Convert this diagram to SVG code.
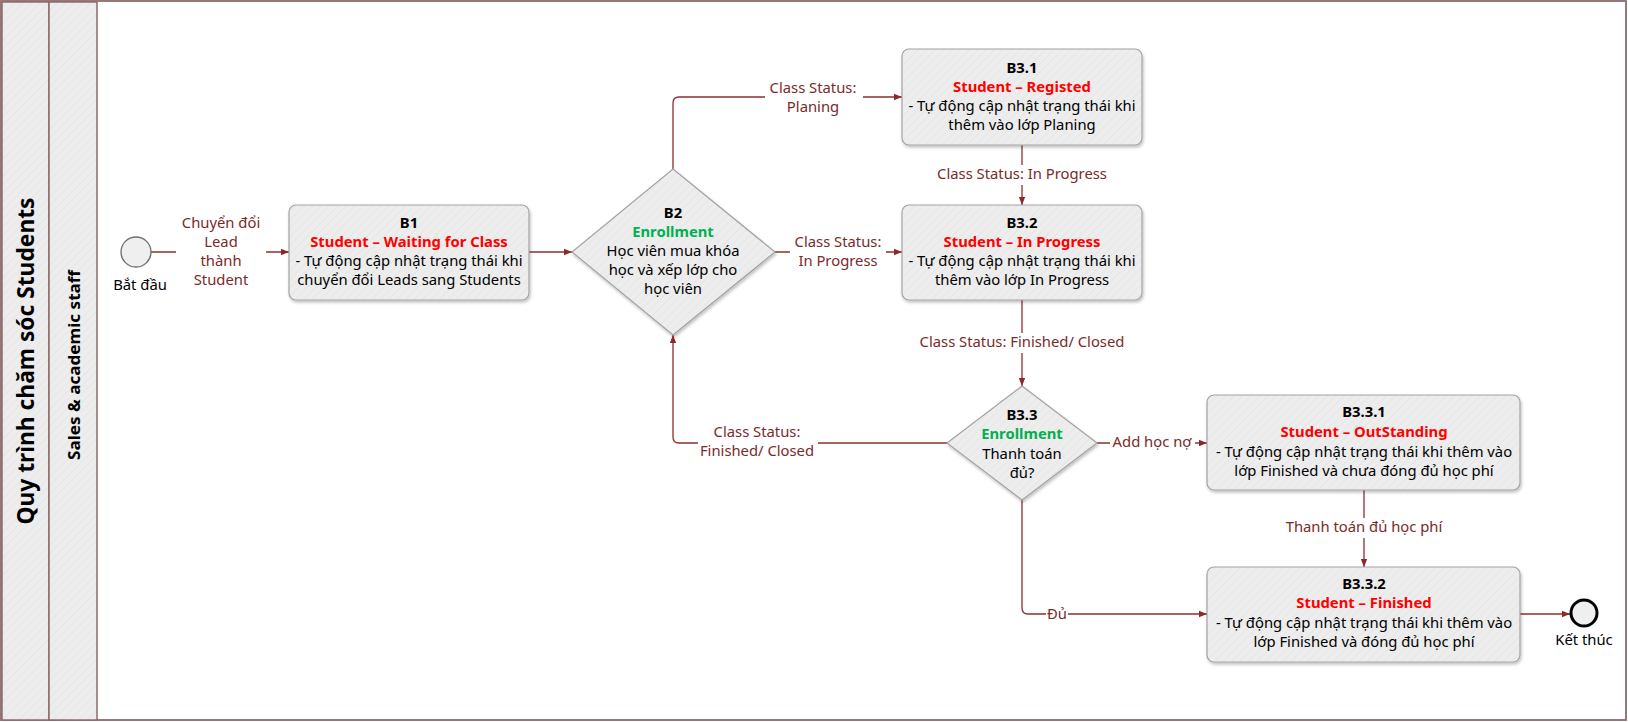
<svg xmlns="http://www.w3.org/2000/svg" width="1628" height="722" viewBox="0 0 1628 722">
<defs>
<pattern id="hatch" width="6" height="6" patternUnits="userSpaceOnUse" patternTransform="rotate(45)">
<rect width="6" height="6" fill="#EDEDED"/>
<line x1="0" y1="0" x2="0" y2="6" stroke="#E6E6E6" stroke-width="2"/>
</pattern>
<filter id="sh" x="-10%" y="-10%" width="120%" height="130%">
<feDropShadow dx="1" dy="2" stdDeviation="1.5" flood-color="#000" flood-opacity="0.25"/>
</filter>
<marker id="arr" viewBox="0 0 10 10" refX="10" refY="5" markerWidth="8" markerHeight="8" markerUnits="userSpaceOnUse" orient="auto">
<path d="M0,1 L10,5 L0,9 Z" fill="#8B2A2A"/>
</marker>
<style>
.box{fill:url(#hatch);stroke:#A3A3A3;stroke-width:1.2;filter:url(#sh)}
.t{font-family:"Noto Sans","Open Sans","DejaVu Sans",sans-serif;font-size:14.8px;fill:#000;text-anchor:middle}
.b{font-weight:bold}
.red{fill:#FF0000}
.green{fill:#00B050}
.lbl{font-family:"Noto Sans","Open Sans","DejaVu Sans",sans-serif;font-size:14.8px;fill:#7B2A2A;text-anchor:middle}
.conn{fill:none;stroke:#8B2F2F;stroke-width:1.3}
.lane{fill:url(#hatch);stroke:#8C6B6B;stroke-width:1.5}
.bg{fill:#fff}
</style>
</defs>

<g id="frame">
<rect x="1" y="1" width="1625" height="719" fill="#fff" stroke="#8C6B6B" stroke-width="1.8"/>
<rect class="lane" x="2" y="2" width="47" height="718"/>
<rect class="lane" x="49" y="2" width="48" height="718"/>
<text transform="translate(34,361) rotate(-90)" font-family="Noto Sans,Open Sans,sans-serif" font-weight="bold" font-size="23" text-anchor="middle" textLength="327" lengthAdjust="spacingAndGlyphs">Quy trình chăm sóc Students</text>
<text transform="translate(80,365) rotate(-90)" font-family="Noto Sans,Open Sans,sans-serif" font-weight="bold" font-size="16" text-anchor="middle" textLength="190" lengthAdjust="spacingAndGlyphs">Sales &amp; academic staff</text>
</g>

<g id="connectors">
<path class="conn" d="M151,252 H289" marker-end="url(#arr)"/>
<path class="conn" d="M529,252 H572" marker-end="url(#arr)"/>
<path class="conn" d="M673,169 V103 Q673,97 679,97 H902" marker-end="url(#arr)"/>
<path class="conn" d="M775,252 H902" marker-end="url(#arr)"/>
<path class="conn" d="M1022,145 V205" marker-end="url(#arr)"/>
<path class="conn" d="M1022,300 V386" marker-end="url(#arr)"/>
<path class="conn" d="M947,443 H679 Q673,443 673,437 V335" marker-end="url(#arr)"/>
<path class="conn" d="M1097,443 H1207" marker-end="url(#arr)"/>
<path class="conn" d="M1364,490 V567" marker-end="url(#arr)"/>
<path class="conn" d="M1022,500 V608 Q1022,614 1028,614 H1207" marker-end="url(#arr)"/>
<path class="conn" d="M1520,614 H1570" marker-end="url(#arr)"/>
</g>

<g id="labels">
<rect class="bg" x="176" y="212" width="90" height="78"/>
<text class="lbl"><tspan x="221" y="228">Chuyển đổi</tspan><tspan x="221" y="247">Lead</tspan><tspan x="221" y="266">thành</tspan><tspan x="221" y="285">Student</tspan></text>
<rect class="bg" x="765" y="80" width="98" height="38"/>
<text class="lbl"><tspan x="813" y="93">Class Status:</tspan><tspan x="813" y="112">Planing</tspan></text>
<rect class="bg" x="790" y="234" width="96" height="38"/>
<text class="lbl"><tspan x="838" y="247">Class Status:</tspan><tspan x="838" y="266">In Progress</tspan></text>
<rect class="bg" x="940" y="165" width="164" height="20"/>
<text class="lbl" x="1022" y="179">Class Status: In Progress</text>
<rect class="bg" x="916" y="333" width="212" height="20"/>
<text class="lbl" x="1022" y="347">Class Status: Finished/ Closed</text>
<rect class="bg" x="698" y="423" width="120" height="38"/>
<text class="lbl"><tspan x="757" y="437">Class Status:</tspan><tspan x="757" y="456">Finished/ Closed</tspan></text>
<rect class="bg" x="1110" y="432" width="85" height="20"/>
<text class="lbl" x="1152" y="447">Add học nợ</text>
<rect class="bg" x="1286" y="518" width="156" height="20"/>
<text class="lbl" x="1364" y="532">Thanh toán đủ học phí</text>
<rect class="bg" x="1046" y="604" width="22" height="20"/>
<text class="lbl" x="1057" y="619">Đủ</text>
</g>

<g id="start">
<circle cx="136" cy="252" r="15" fill="#EFEFEF" stroke="#6E6E6E" stroke-width="1.3"/>
<text class="t" x="140" y="290">Bắt đầu</text>
</g>

<g id="B1">
<rect class="box" x="289" y="205" width="240" height="95" rx="7"/>
<text class="t"><tspan class="b" x="409" y="228">B1</tspan><tspan class="b red" x="409" y="247">Student – Waiting for Class</tspan><tspan x="409" y="266">- Tự động cập nhật trạng thái khi</tspan><tspan x="409" y="285">chuyển đổi Leads sang Students</tspan></text>
</g>

<g id="B2">
<path class="box" d="M673,169 L775,252 L673,335 L572,252 Z"/>
<text class="t"><tspan class="b" x="673" y="218">B2</tspan><tspan class="b green" x="673" y="237">Enrollment</tspan><tspan x="673" y="256">Học viên mua khóa</tspan><tspan x="673" y="275">học và xếp lớp cho</tspan><tspan x="673" y="294">học viên</tspan></text>
</g>

<g id="B3_1">
<rect class="box" x="902" y="49" width="240" height="96" rx="7"/>
<text class="t"><tspan class="b" x="1022" y="73">B3.1</tspan><tspan class="b red" x="1022" y="92">Student – Registed</tspan><tspan x="1022" y="111">- Tự động cập nhật trạng thái khi</tspan><tspan x="1022" y="130">thêm vào lớp Planing</tspan></text>
</g>

<g id="B3_2">
<rect class="box" x="902" y="205" width="240" height="95" rx="7"/>
<text class="t"><tspan class="b" x="1022" y="228">B3.2</tspan><tspan class="b red" x="1022" y="247">Student – In Progress</tspan><tspan x="1022" y="266">- Tự động cập nhật trạng thái khi</tspan><tspan x="1022" y="285">thêm vào lớp In Progress</tspan></text>
</g>

<g id="B3_3">
<path class="box" d="M1022,386 L1097,443 L1022,500 L947,443 Z"/>
<text class="t"><tspan class="b" x="1022" y="420">B3.3</tspan><tspan class="b green" x="1022" y="439">Enrollment</tspan><tspan x="1022" y="459">Thanh toán</tspan><tspan x="1022" y="478">đủ?</tspan></text>
</g>

<g id="B3_3_1">
<rect class="box" x="1207" y="395" width="313" height="95" rx="7"/>
<text class="t"><tspan class="b" x="1364" y="417">B3.3.1</tspan><tspan class="b red" x="1364" y="437">Student – OutStanding</tspan><tspan x="1364" y="457">- Tự động cập nhật trạng thái khi thêm vào</tspan><tspan x="1364" y="476">lớp Finished và chưa đóng đủ học phí</tspan></text>
</g>

<g id="B3_3_2">
<rect class="box" x="1207" y="567" width="313" height="95" rx="7"/>
<text class="t"><tspan class="b" x="1364" y="589">B3.3.2</tspan><tspan class="b red" x="1364" y="608">Student – Finished</tspan><tspan x="1364" y="628">- Tự động cập nhật trạng thái khi thêm vào</tspan><tspan x="1364" y="647">lớp Finished và đóng đủ học phí</tspan></text>
</g>

<g id="end">
<circle cx="1584" cy="613" r="13" fill="#EFEFEF" stroke="#000" stroke-width="3"/>
<text class="t" x="1584" y="645">Kết thúc</text>
</g>
</svg>
